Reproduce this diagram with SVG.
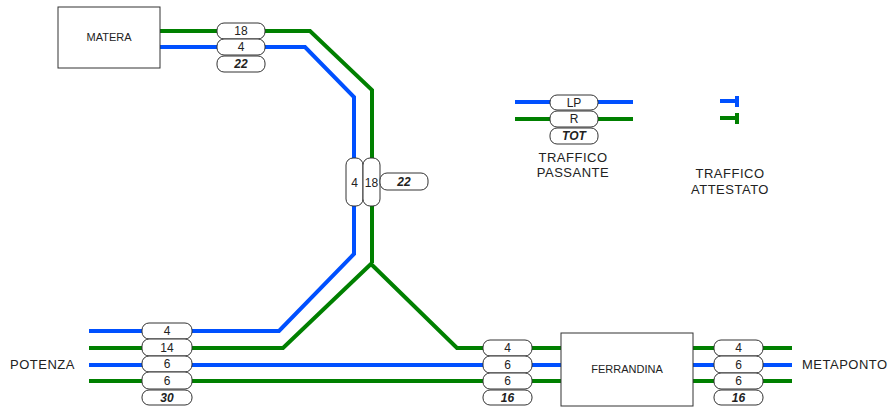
<svg xmlns="http://www.w3.org/2000/svg" width="891" height="407" viewBox="0 0 891 407">
<style>
.b{stroke:#0050ff;stroke-width:4;fill:none;stroke-linejoin:miter}
.g{stroke:#008000;stroke-width:4;fill:none;stroke-linejoin:miter}
.pill{fill:#fff;stroke:#333;stroke-width:1}
.box{fill:#fff;stroke:#333;stroke-width:1}
.n{font-family:"Liberation Sans",Arial,sans-serif;font-size:12px;fill:#222;text-anchor:middle}
.t{font-family:"Liberation Sans",Arial,sans-serif;font-size:12px;font-weight:bold;font-style:italic;fill:#222;text-anchor:middle}
.lbl{font-family:"Liberation Sans",Arial,sans-serif;font-size:13px;fill:#222;letter-spacing:0.5px}
.mid{text-anchor:middle}
.sm{font-family:"Liberation Sans",Arial,sans-serif;font-size:11px;fill:#222;text-anchor:middle}
</style>
<g id="connectors">
<polyline class="g" points="160,31 310,31 372,90 372,263"/>
<polyline class="b" points="160,47 305,47 354,97 354,254 279,331 89,331"/>
<polyline class="g" points="372,263 283,348 89,348"/>
<polyline class="g" points="370,263 457,348 561,348"/>
<line class="b" x1="89" y1="365" x2="561" y2="365"/>
<line class="g" x1="89" y1="381" x2="561" y2="381"/>
<line class="g" x1="693" y1="348" x2="792" y2="348"/>
<line class="b" x1="693" y1="365" x2="792" y2="365"/>
<line class="g" x1="693" y1="381" x2="792" y2="381"/>
<line class="b" x1="515" y1="102" x2="633" y2="102"/>
<line class="g" x1="515" y1="119" x2="633" y2="119"/>
<polyline class="b" points="720,101 737,101"/>
<line class="b" x1="737" y1="96" x2="737" y2="107"/>
<polyline class="g" points="720,118 737,118"/>
<line class="g" x1="737" y1="113" x2="737" y2="124"/>
</g>
<g id="matera">
<rect class="box" x="58" y="7" width="102" height="61"/>
<text class="sm" x="109" y="41">MATERA</text>
</g>
<g id="ferrandina">
<rect class="box" x="561" y="333" width="132" height="73"/>
<text class="sm" x="627" y="373">FERRANDINA</text>
</g>
<g id="potenza"><text class="lbl" x="10" y="369">POTENZA</text></g>
<g id="metaponto"><text class="lbl" x="802" y="369">METAPONTO</text></g>
<g id="matera-labels">
<rect class="pill" x="217" y="23" width="48" height="16" rx="7"/><text class="n" x="241" y="35">18</text>
<rect class="pill" x="217" y="39" width="48" height="16" rx="7"/><text class="n" x="241" y="51">4</text>
<rect class="pill" x="217" y="56" width="48" height="16" rx="7"/><text class="t" x="241" y="68">22</text>
</g>
<g id="vertical-labels">
<rect class="pill" x="346" y="158" width="17" height="48" rx="7"/><text class="n" x="354.5" y="187">4</text>
<rect class="pill" x="363" y="158" width="17" height="48" rx="7"/><text class="n" x="371.5" y="187">18</text>
<rect class="pill" x="380" y="173" width="48" height="17" rx="7"/><text class="t" x="404" y="186">22</text>
</g>
<g id="potenza-labels">
<rect class="pill" x="142" y="323" width="50" height="16" rx="7"/><text class="n" x="167" y="335">4</text>
<rect class="pill" x="142" y="339" width="50" height="17" rx="7"/><text class="n" x="167" y="352">14</text>
<rect class="pill" x="142" y="356" width="50" height="16" rx="7"/><text class="n" x="167" y="368">6</text>
<rect class="pill" x="142" y="372" width="50" height="17" rx="7"/><text class="n" x="167" y="385">6</text>
<rect class="pill" x="142" y="390" width="50" height="15" rx="7"/><text class="t" x="167" y="402">30</text>
</g>
<g id="ferrandina-left-labels">
<rect class="pill" x="483" y="340" width="49" height="16" rx="7"/><text class="n" x="507.5" y="352">4</text>
<rect class="pill" x="483" y="356" width="49" height="17" rx="7"/><text class="n" x="507.5" y="369">6</text>
<rect class="pill" x="483" y="373" width="49" height="16" rx="7"/><text class="n" x="507.5" y="385">6</text>
<rect class="pill" x="483" y="390" width="49" height="15" rx="7"/><text class="t" x="507.5" y="402">16</text>
</g>
<g id="ferrandina-right-labels">
<rect class="pill" x="714" y="340" width="49" height="16" rx="7"/><text class="n" x="738.5" y="352">4</text>
<rect class="pill" x="714" y="356" width="49" height="17" rx="7"/><text class="n" x="738.5" y="369">6</text>
<rect class="pill" x="714" y="373" width="49" height="16" rx="7"/><text class="n" x="738.5" y="385">6</text>
<rect class="pill" x="714" y="390" width="49" height="15" rx="7"/><text class="t" x="738.5" y="402">16</text>
</g>
<g id="legend-passante">
<rect class="pill" x="550" y="95" width="48" height="15" rx="7"/><text class="n" x="574" y="107">LP</text>
<rect class="pill" x="550" y="111" width="48" height="16" rx="7"/><text class="n" x="574" y="123">R</text>
<rect class="pill" x="550" y="128" width="48" height="16" rx="7"/><text class="t" x="574" y="140">TOT</text>
<text class="lbl mid" x="573" y="162">TRAFFICO</text>
<text class="lbl mid" x="573" y="177">PASSANTE</text>
</g>
<g id="legend-attestato">
<text class="lbl mid" x="730" y="178">TRAFFICO</text>
<text class="lbl mid" x="730" y="194">ATTESTATO</text>
</g>
</svg>
